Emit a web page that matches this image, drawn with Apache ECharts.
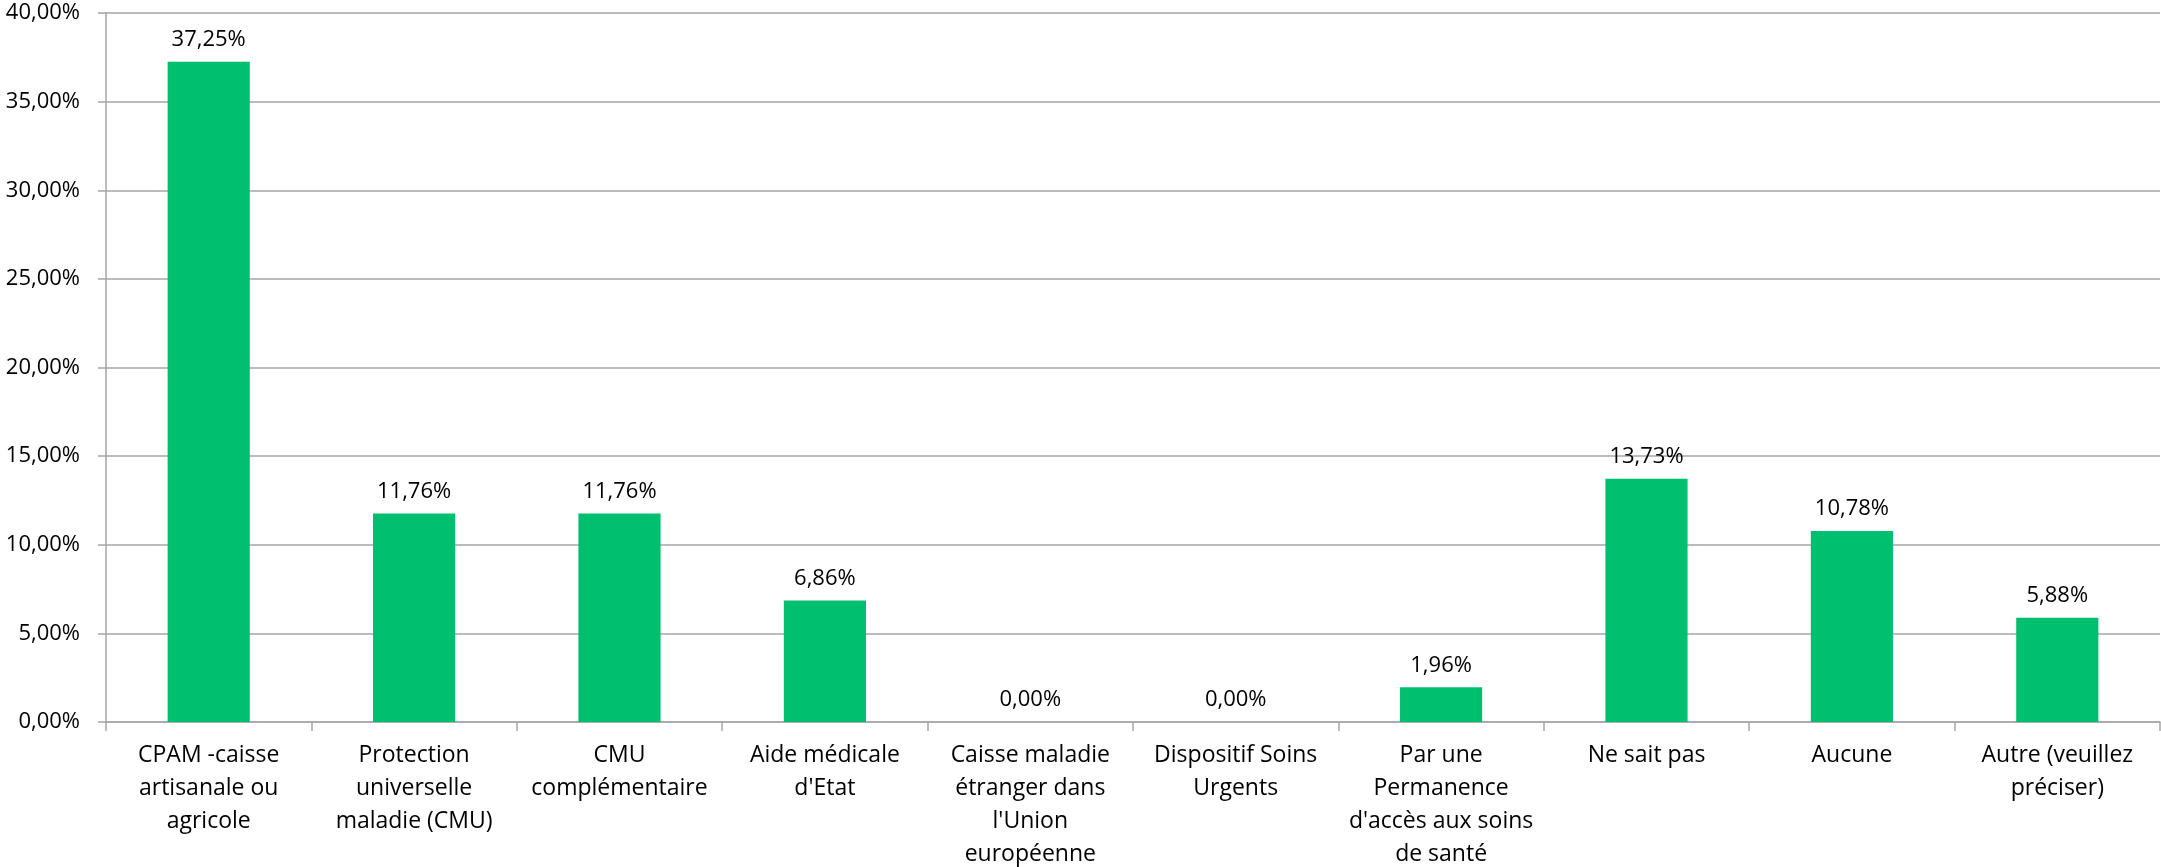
<!DOCTYPE html>
<html>
<head>
<meta charset="utf-8">
<script src="https://cdn.jsdelivr.net/npm/echarts@6/dist/echarts.min.js"></script>
<style>
html,body{margin:0;padding:0;background:#fff;}
#chart{width:2161px;height:867px;}
</style>
</head>
<body>
<div id="chart"></div>
<script>
const categories = [
  "CPAM -caisse\nartisanale ou\nagricole",
  "Protection\nuniverselle\nmaladie (CMU)",
  "CMU\ncomplémentaire",
  "Aide médicale\nd'Etat",
  "Caisse maladie\nétranger dans\nl'Union\neuropéenne",
  "Dispositif Soins\nUrgents",
  "Par une\nPermanence\nd'accès aux soins\nde santé",
  "Ne sait pas",
  "Aucune",
  "Autre (veuillez\npréciser)"
];
const values = [37.25, 11.76, 11.76, 6.86, 0, 0, 1.96, 13.73, 10.78, 5.88];
const yMin = 0, yMax = 40, yInterval = 5;

const fmt = v => v.toFixed(2).replace('.', ',') + '%';
const FONT = '"Open Sans", sans-serif';

const chart = echarts.init(document.getElementById('chart'));
chart.setOption({
  animation: false,
  backgroundColor: '#fff',
  grid: { left: 106, right: 1, top: 13, bottom: 145, containLabel: false, outerBoundsMode: 'none' },
  xAxis: {
    type: 'category',
    data: categories,
    axisLine: { show: true, lineStyle: { color: '#a6a6a6', width: 1.5 } },
    axisTick: { show: true, alignWithLabel: false, length: 9, lineStyle: { color: '#a6a6a6', width: 1.5 } },
    axisLabel: {
      interval: 0, margin: 17, color: '#000', fontFamily: FONT, fontSize: 23, lineHeight: 33, align: 'center'
    }
  },
  yAxis: {
    type: 'value',
    min: yMin, max: yMax, interval: yInterval,
    axisLine: { show: true, lineStyle: { color: '#a6a6a6', width: 1.5 } },
    axisTick: { show: true, length: 8, lineStyle: { color: '#a6a6a6', width: 1.5 } },
    splitLine: { show: true, lineStyle: { color: '#a6a6a6', width: 1.5 } },
    axisLabel: { formatter: fmt, margin: 26, color: '#000', fontFamily: FONT, fontSize: 22 }
  },
  series: [{
    type: 'bar',
    data: values,
    barCategoryGap: '60%',
    itemStyle: { color: '#00bf6f' },
    label: {
      show: true, position: 'top', distance: 11,
      formatter: p => fmt(p.value),
      color: '#000', fontFamily: FONT, fontSize: 22
    }
  }]
});
</script>
</body>
</html>
